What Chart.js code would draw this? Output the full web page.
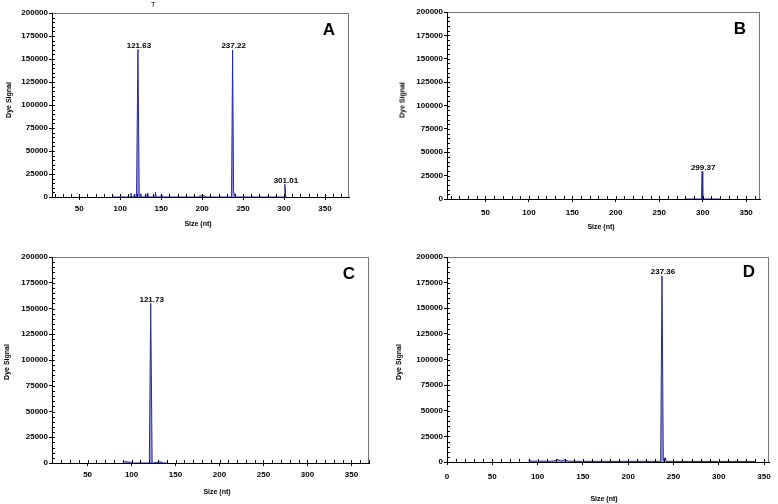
<!DOCTYPE html>
<html>
<head>
<meta charset="utf-8">
<script src="https://cdn.jsdelivr.net/npm/chart.js@4.4.0/dist/chart.umd.min.js"></script>
<style>
  html, body { margin: 0; padding: 0; background: #fff; }
  #wrap { position: relative; width: 778px; height: 504px; overflow: hidden; }
  canvas { position: absolute; left: 0; top: 0; }
  .t { position: absolute; font-family: 'Liberation Sans', Arial, sans-serif; font-weight: bold; color: #000; white-space: nowrap; }
  .ytitle { transform: translate(-50%, -50%) rotate(-90deg); font-size: 7px; }
  .xtitle { transform: translate(-50%, -50%); font-size: 7px; }
  .letter { transform: translate(-50%, -50%); font-size: 17px; }
</style>
</head>
<body>
<div id="wrap">
  <canvas id="cA" width="778" height="504"></canvas>
  <canvas id="cB" width="778" height="504"></canvas>
  <canvas id="cC" width="778" height="504"></canvas>
  <canvas id="cD" width="778" height="504"></canvas>

  <div class="t" style="left:151px;top:1px;font-size:7px;font-weight:normal;">T</div>

  <div class="t ytitle" style="left:8px;top:100px;">Dye Signal</div>
  <div class="t xtitle" style="left:198px;top:223px;">Size (nt)</div>
  <div class="t letter" style="left:329px;top:30px;">A</div>

  <div class="t ytitle" style="left:402px;top:100px;">Dye Signal</div>
  <div class="t xtitle" style="left:601px;top:226px;">Size (nt)</div>
  <div class="t letter" style="left:740px;top:29px;">B</div>

  <div class="t ytitle" style="left:6px;top:362px;">Dye Signal</div>
  <div class="t xtitle" style="left:217px;top:491px;">Size (nt)</div>
  <div class="t letter" style="left:349px;top:274px;">C</div>

  <div class="t ytitle" style="left:398px;top:362px;">Dye Signal</div>
  <div class="t xtitle" style="left:604px;top:498px;">Size (nt)</div>
  <div class="t letter" style="left:749px;top:272px;">D</div>
</div>
<script>
// electropherogram traces: fragment size (nt) and dye signal
const sizesA = [90, 90.7, 91.4, 112.4, 113.1, 113.8, 116.6, 117.2, 117.8, 119.9, 121.63, 123.2,
  124.5, 125.1, 125.7, 132.4, 133.1, 133.8, 142.4, 143.1, 143.8, 149.6, 150.2, 150.8,
  195, 197, 200, 203, 205, 235.9, 237.22, 238.4, 239.6, 240.8, 300, 301.01, 302.2];
const signalA = [0, 1500, 0, 0, 4200, 0, 0, 3000, 0, 0, 160500, 0,
  0, 3500, 0, 0, 4000, 0, 0, 5000, 0, 0, 2500, 0,
  0, 1200, 1500, 1200, 0, 0, 159800, 6000, 2000, 0, 0, 13800, 0];

const sizesB = [280, 298.6, 299.37, 300.1, 320];
const signalB = [0, 0, 29500, 0, 0];

const sizesC = [90, 92, 96, 100, 102, 120.2, 121.73, 123.4, 125, 130, 133, 136, 140];
const signalC = [0, 1500, 1000, 600, 0, 0, 155000, 0, 0, 900, 1200, 0, 0];

const sizesD = [90, 95, 100, 110, 118, 122, 126, 130, 134, 150, 180, 210, 235.9, 237.36, 238.8,
  240, 241, 242.2, 260, 300, 340];
const signalD = [1200, 800, 1000, 700, 1000, 2500, 900, 2200, 800, 700, 600, 700, 600, 181500, 1500,
  3800, 4200, 600, 500, 600, 500];

// called peaks (size label, peak height)
const peaksA = [121.63, 237.22, 301.01];
const peakTopsA = [160500, 159800, 13800];
const peaksB = [299.37];
const peakTopsB = [29500];
const peaksC = [121.73];
const peakTopsC = [155000];
const peaksD = [237.36];
const peakTopsD = [181500];

// axis ranges and ticks
const xRangeA = [16.7, 379.3];
const xRangeB = [5.7, 366];
const xRangeC = [9.5, 370];
const xRangeD = [0, 355.5];
const yMax = 200000;
const yStep = 25000;
const yMinorStep = 5000;
const xStep = 50;
const xMinorStep = 10;

const FONT = "'Liberation Sans', Arial, sans-serif";
Chart.defaults.font.family = FONT;
Chart.defaults.font.size = 8;
Chart.defaults.font.weight = 'bold';
Chart.defaults.color = '#000';

const Y_W = 50;
const X_H = 30;

const panelPlugin = {
  id: 'panel',
  beforeDraw(chart) {
    const { ctx, chartArea: a } = chart;
    ctx.save();
    ctx.strokeStyle = '#777';
    ctx.lineWidth = 1;
    ctx.strokeRect(a.left + 0.5, a.top + 0.5, a.right - a.left - 1, a.bottom - a.top);
    ctx.restore();
  },
  afterDraw(chart) {
    const { ctx, chartArea: a } = chart;
    const xs = chart.scales.x;
    const ys = chart.scales.y;
    ctx.save();
    ctx.strokeStyle = '#000';
    ctx.lineWidth = 1;
    ctx.beginPath();
    for (let v = Math.ceil(xs.min / xMinorStep) * xMinorStep; v <= xs.max; v += xMinorStep) {
      const px = Math.round(xs.getPixelForValue(v)) + 0.5;
      ctx.moveTo(px, a.bottom);
      ctx.lineTo(px, a.bottom - 3);
    }
    for (let v = yMinorStep; v < ys.max; v += yMinorStep) {
      const py = Math.round(ys.getPixelForValue(v)) + 0.5;
      ctx.moveTo(a.left, py);
      ctx.lineTo(a.left + 3, py);
    }
    ctx.stroke();

    const p = chart.options.plugins.panel;
    ctx.fillStyle = '#000';
    ctx.font = `bold 8px ${FONT}`;
    ctx.textAlign = 'center';
    ctx.textBaseline = 'bottom';
    p.peaks.forEach((size, i) => {
      const px = xs.getPixelForValue(size);
      const py = ys.getPixelForValue(p.tops[i]);
      ctx.fillText(size.toFixed(2), px + 1, py);
    });
    ctx.restore();
  },
};

function makePanel(id, area, xRange, sizes, signal, peaks, tops, xPad) {
  const points = sizes.map((s, i) => ({ x: s, y: signal[i] }));
  return new Chart(document.getElementById(id), {
    type: 'line',
    data: {
      datasets: [{
        data: points,
        borderColor: '#2a2a9c',
        backgroundColor: 'rgba(120,120,215,0.75)',
        borderWidth: 1,
        fill: 'origin',
        pointRadius: 0,
        tension: 0,
      }],
    },
    options: {
      responsive: false,
      animation: false,
      layout: {
        padding: {
          left: area.left - Y_W,
          top: area.top,
          right: 778 - area.right,
          bottom: 504 - area.bottom - X_H,
        },
      },
      plugins: {
        legend: { display: false },
        tooltip: { enabled: false },
        panel: { peaks, tops },
      },
      scales: {
        x: {
          type: 'linear',
          min: xRange[0],
          max: xRange[1],
          afterFit: (s) => { s.height = X_H; },
          afterBuildTicks: (s) => {
            s.ticks = s.ticks.filter((t) => Math.abs(t.value % xStep) < 1e-6);
          },
          ticks: {
            stepSize: xStep, includeBounds: false, autoSkip: false, maxRotation: 0,
            padding: xPad, callback: (v) => String(v),
          },
          grid: { drawOnChartArea: false, drawTicks: true, tickLength: 3, color: '#000' },
          border: { display: true, color: '#000', width: 1 },
        },
        y: {
          min: 0,
          max: yMax,
          afterFit: (s) => { s.width = Y_W; },
          ticks: { stepSize: yStep, padding: 1, callback: (v) => String(v) },
          grid: { drawOnChartArea: false, drawTicks: true, tickLength: 3, color: '#000' },
          border: { display: true, color: '#000', width: 1 },
        },
      },
    },
    plugins: [panelPlugin],
  });
}

makePanel('cA', { left: 52, top: 13, right: 349, bottom: 197 }, xRangeA, sizesA, signalA, peaksA, peakTopsA, 4);
makePanel('cB', { left: 447, top: 12, right: 760, bottom: 199 }, xRangeB, sizesB, signalB, peaksB, peakTopsB, 6);
makePanel('cC', { left: 52, top: 257, right: 369, bottom: 463 }, xRangeC, sizesC, signalC, peaksC, peakTopsC, 4);
makePanel('cD', { left: 447, top: 257, right: 769, bottom: 462 }, xRangeD, sizesD, signalD, peaksD, peakTopsD, 7);
</script>
</body>
</html>
